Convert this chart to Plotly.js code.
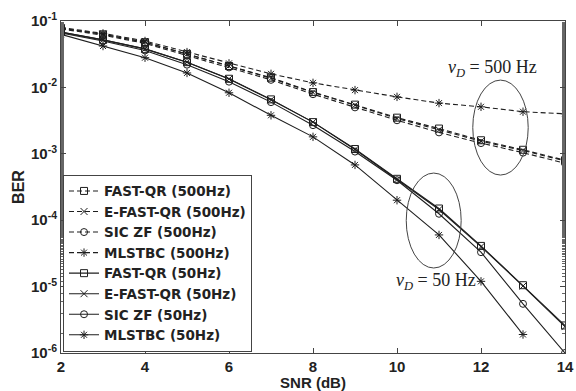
<!DOCTYPE html>
<html><head><meta charset="utf-8">
<script src="https://cdn.plot.ly/plotly-3.0.1.min.js"></script>
<style>body{margin:0;background:#fff}#c{width:576px;height:391px}</style>
</head><body><div id="c"></div>
<script>
const snr = [2,3,4,5,6,7,8,9,10,11,12,13,14];
const snrShort = [2,3,4,5,6,7,8,9,10,11,12,13];
const fastqr500  = [0.078,0.063,0.048,0.032,0.021,0.0140,0.0085,0.0055,0.0035,0.0024,0.00160,0.00115,0.00080];
const efastqr500 = [0.078,0.063,0.048,0.032,0.021,0.0137,0.0084,0.0054,0.0034,0.0023,0.00155,0.00112,0.00078];
const siczf500   = [0.076,0.061,0.046,0.030,0.020,0.0130,0.0079,0.0050,0.0032,0.0021,0.00145,0.00104,0.00072];
const mlstbc500  = [0.080,0.065,0.050,0.034,0.0230,0.0160,0.0117,0.0091,0.0072,0.0058,0.0051,0.0043,0.0040];
const fastqr50   = [0.068,0.052,0.038,0.024,0.0135,0.0066,0.0030,0.00118,0.00042,0.000150,0.000041,0.0000105,0.0000026];
const efastqr50  = [0.068,0.052,0.038,0.024,0.0134,0.0065,0.0030,0.00116,0.00041,0.000145,0.000040,0.0000102,0.0000025];
const siczf50    = [0.066,0.050,0.036,0.022,0.0122,0.0060,0.0027,0.00108,0.00040,0.000125,0.000033,0.0000055,0.0000010];
const mlstbc50   = [0.063,0.042,0.028,0.0165,0.0083,0.0038,0.0018,0.00068,0.00020,0.000060,0.000012,0.0000019];
const names = ['FAST-QR (500Hz)','E-FAST-QR (500Hz)','SIC ZF (500Hz)','MLSTBC (500Hz)',
               'FAST-QR (50Hz)','E-FAST-QR (50Hz)','SIC ZF (50Hz)','MLSTBC (50Hz)'];
const yTickVals = [1e-6,1e-5,1e-4,1e-3,1e-2,1e-1];
const yTickText = ['10<sup>-6</sup>','10<sup>-5</sup>','10<sup>-4</sup>','10<sup>-3</sup>','10<sup>-2</sup>','10<sup>-1</sup>'];
const xTickVals = [2,4,6,8,10,12,14];

const series = [fastqr500, efastqr500, siczf500, mlstbc500, fastqr50, efastqr50, siczf50, mlstbc50];
const symbols = ['square-open','x-thin-open','circle-open','asterisk-open','square-open','x-thin-open','circle-open','asterisk-open'];
const col = '#1e1e1e';
const traces = series.map((ys,i)=>({
  x: ys.length===snr.length ? snr : snrShort,
  y: ys, name: names[i], type:'scatter', mode:'lines+markers',
  line:{color:col, width:1.1, dash: i<4 ? '5px,3px' : 'solid'},
  marker:{symbol:symbols[i], size:7, color:col, line:{color:col, width:1}}
}));

const sans = 'Liberation Sans, Arial, sans-serif';
const ax = {showline:true, linecolor:'#444', linewidth:1, mirror:'ticks', ticks:'inside',
  ticklen:5, tickcolor:'#444', showgrid:false, zeroline:false,
  tickfont:{family:sans, size:15, color:'#222', weight:'bold'}};

const layout = {
  width:576, height:391, margin:{l:61, r:11, t:21, b:38},
  paper_bgcolor:'#fff', plot_bgcolor:'#fff', showlegend:true,
  xaxis: Object.assign({}, ax, {range:[2,14], tickvals:xTickVals, automargin:false,
    title:{text:'SNR (dB)', standoff:0, font:{family:sans, size:15, color:'#222', weight:'bold'}}}),
  yaxis: Object.assign({}, ax, {type:'log', range:[-6,-1], tickvals:yTickVals, ticktext:yTickText,
    minor:{ticks:'inside', ticklen:3, tickcolor:'#666', showgrid:false},
    title:{text:'BER', standoff:2, font:{family:sans, size:16, color:'#222', weight:'bold'}}}),
  legend:{x:0.004, y:0.004, xanchor:'left', yanchor:'bottom', bgcolor:'#fff', bordercolor:'#444', borderwidth:1,
    font:{family:'DejaVu Sans, sans-serif', size:13.5, color:'#222', weight:'bold'},
    tracegroupgap:0, itemwidth:30},
  shapes:[
    {type:'circle', xref:'paper', yref:'paper', x0:0.817, x1:0.927, y0:0.536, y1:0.822, line:{color:'#444', width:1}},
    {type:'circle', xref:'paper', yref:'paper', x0:0.685, x1:0.794, y0:0.256, y1:0.542, line:{color:'#444', width:1}}
  ],
  annotations:[
    {xref:'paper', yref:'paper', x:0.857, y:0.858, xanchor:'center', yanchor:'middle', showarrow:false,
     text:'<i>v</i><sub><i>D</i></sub> = 500 Hz', font:{family:'Liberation Serif, Times New Roman, serif', size:18, color:'#222'}},
    {xref:'paper', yref:'paper', x:0.745, y:0.214, xanchor:'center', yanchor:'middle', showarrow:false,
     text:'<i>v</i><sub><i>D</i></sub> = 50 Hz', font:{family:'Liberation Serif, Times New Roman, serif', size:18, color:'#222'}}
  ]
};
Plotly.newPlot('c', traces, layout, {displayModeBar:false, staticPlot:true});
</script></body></html>
